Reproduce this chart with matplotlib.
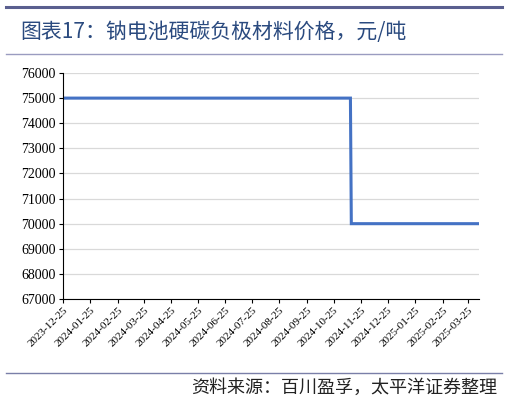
import numpy as np
import pandas as pd
import matplotlib
matplotlib.use("Agg")
import matplotlib.pyplot as plt
from matplotlib.lines import Line2D

# step series
dates = ["2023-12-25", "2024-11-13", "2024-11-14", "2025-04-07"]
prices = [75000, 75000, 70000, 70000]
tick_dates = pd.date_range("2023-12-01", "2025-03-01", freq="MS") + pd.Timedelta(days=24)
tick_labels = [d.strftime("%Y-%m-%d") for d in tick_dates]
yticks = list(range(67000, 76001, 1000))

title = "图表17：钠电池硬碳负极材料价格，元/吨"
source = "资料来源：百川盈孚，太平洋证券整理"

# tick labels in Times-like serif, CJK texts get their own family below
plt.rcParams['font.family'] = ['Liberation Serif', 'Noto Sans CJK SC']
cjk = ['Noto Sans CJK SC', 'DejaVu Sans']

fig = plt.figure(figsize=(5.07, 4.0), dpi=100)
ax = fig.add_axes([0.124, 0.2525, 0.821, 0.565])

x = pd.to_datetime(dates)
ax.plot(x, prices, color="#4472C4", lw=2.2, solid_joinstyle="miter")

ax.tick_params(axis="both", length=3, width=0.8, pad=2)
ax.tick_params(axis="y", labelsize=10)
ax.tick_params(axis="x", labelsize=8)
ax.set_ylim(67000, 76000)
ax.set_yticks(yticks)
ax.set_yticklabels([str(v) for v in yticks])
ax.set_xlim(pd.Timestamp("2023-12-25"), pd.Timestamp("2025-04-07"))
ax.set_xticks(tick_dates)
ax.set_xticklabels(tick_labels, rotation=45, ha="right", rotation_mode="anchor")
ax.grid(axis="y", color="#d9d9d9", lw=0.9)
ax.set_axisbelow(True)
for s in ["top", "right"]:
    ax.spines[s].set_visible(False)
ax.spines["left"].set_linewidth(0.8)
ax.spines["bottom"].set_linewidth(0.8)

# header and footer decorations
fig.add_artist(Line2D([0.012, 0.99], [0.983, 0.983], color="#5a5f8f", lw=2.2))
fig.add_artist(Line2D([0.012, 0.99], [0.865, 0.865], color="#9a9cc0", lw=1.0))
fig.text(0.04, 0.92, title, fontsize=15, color="#2a4a7f", va="center", ha="left",
         family=cjk)
fig.add_artist(Line2D([0.012, 0.99], [0.068, 0.068], color="#7a7fa8", lw=1.0))
fig.text(0.98, 0.03, source, fontsize=13, color="#222222", va="center", ha="right",
         style="italic", family=cjk)

fig.savefig("out.png", dpi=100)
